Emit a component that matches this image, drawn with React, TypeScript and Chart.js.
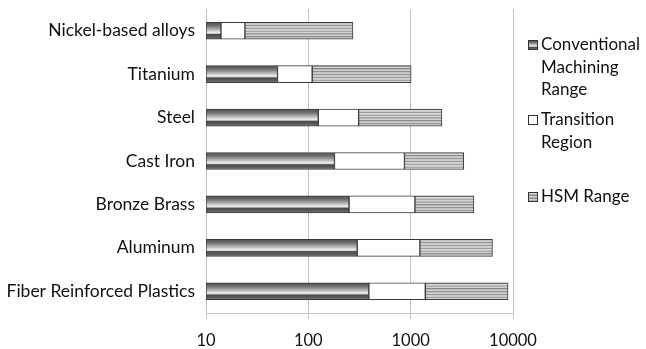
import React, { useEffect, useRef } from "react";
import { Chart, registerables } from "chart.js";

Chart.register(...registerables);

const categories = [
  "Nickel-based alloys",
  "Titanium",
  "Steel",
  "Cast Iron",
  "Bronze Brass",
  "Aluminum",
  "Fiber Reinforced Plastics",
];
const axisMin = 10;
const conventionalEnd = [14, 50, 125, 180, 250, 300, 390];
const transitionEnd = [24, 109, 310, 870, 1100, 1230, 1390];
const hsmEnd = [273, 1010, 2020, 3300, 4150, 6300, 8950];
const xTicks = [10, 100, 1000, 10000];
const legendLines = [
  ["Conventional", "Machining", "Range"],
  ["Transition", "Region"],
  ["HSM Range"],
];

const FONT = "Lato, 'Open Sans', sans-serif";

function convGradient(ctx: CanvasRenderingContext2D, top: number, h: number) {
  const g = ctx.createLinearGradient(0, top, 0, top + h);
  g.addColorStop(0, "#505050");
  g.addColorStop(0.2, "#6e6e6e");
  g.addColorStop(0.5, "#c8c8c8");
  g.addColorStop(0.6, "#eeeeee");
  g.addColorStop(0.66, "#d0d0d0");
  g.addColorStop(0.72, "#4a4a4a");
  g.addColorStop(0.86, "#5a5a5a");
  g.addColorStop(1, "#808080");
  return g;
}

function hsmGradient(ctx: CanvasRenderingContext2D, top: number, h: number) {
  const g = ctx.createLinearGradient(0, top, 0, top + h);
  const n = 6;
  for (let i = 0; i < n; i++) {
    g.addColorStop(i / n, "#8a8a8a");
    g.addColorStop((i + 0.2) / n, "#9a9a9a");
    g.addColorStop((i + 0.55) / n, "#d8d8d8");
    g.addColorStop((i + 0.95) / n, "#c8c8c8");
  }
  return g;
}

function makeFill(kind: "conv" | "trans" | "hsm") {
  return (c: any) => {
    if (kind === "trans") return "#ffffff";
    const fallback = kind === "conv" ? "#777777" : "#bbbbbb";
    const chart = c.chart;
    const y = chart.scales && chart.scales.y;
    if (!y || c.type !== "data") return fallback;
    const center = y.getPixelForValue(c.dataIndex);
    if (!Number.isFinite(center)) return fallback;
    const h = 17;
    const top = center - h / 2;
    return kind === "conv" ? convGradient(chart.ctx, top, h) : hsmGradient(chart.ctx, top, h);
  };
}

const legendPlugin = {
  id: "sideLegend",
  afterDraw(chart: any) {
    const ctx: CanvasRenderingContext2D = chart.ctx;
    const starts = [45, 120, 197];
    const lh = 22.5;
    const sx = 528;
    const tx = 541;
    ctx.save();
    ctx.font = `17px ${FONT}`;
    ctx.textBaseline = "middle";
    legendLines.forEach((lines, i) => {
      const y0 = starts[i];
      const top = Math.round(y0 - 5) + 0.5;
      const size = 9;
      let fill: any = "#fff";
      if (i === 0) fill = convGradient(ctx, top, size);
      if (i === 2) fill = hsmGradient(ctx, top, size);
      ctx.fillStyle = fill;
      ctx.fillRect(sx + 0.5, top, size, size);
      ctx.strokeStyle = "#333";
      ctx.lineWidth = 1;
      ctx.strokeRect(sx + 0.5, top, size, size);
      ctx.fillStyle = "#111111";
      lines.forEach((t, j) => {
        ctx.fillText(t, tx, y0 + j * lh);
      });
    });
    ctx.restore();
  },
};

export default function App() {
  const ref = useRef<HTMLCanvasElement | null>(null);

  useEffect(() => {
    document.body.style.margin = "0";
    const canvas = ref.current;
    if (!canvas) return;
    const mk = (label: string, starts: number[], ends: number[], kind: "conv" | "trans" | "hsm") => ({
      label,
      data: ends.map((e, i) => [starts[i], e]),
      backgroundColor: makeFill(kind),
      borderColor: "#3a3a3a",
      borderWidth: 1,
      borderSkipped: false,
      barThickness: 17,
      grouped: false,
    });
    const chart = new Chart(canvas, {
      type: "bar",
      data: {
        labels: categories,
        datasets: [
          mk("Conventional Machining Range", categories.map(() => axisMin), conventionalEnd, "conv"),
          mk("Transition Region", conventionalEnd, transitionEnd, "trans"),
          mk("HSM Range", transitionEnd, hsmEnd, "hsm"),
        ] as any,
      },
      options: {
        indexAxis: "y",
        animation: false,
        responsive: false,
        maintainAspectRatio: false,
        layout: { padding: { top: 9, right: 133, left: 0, bottom: 0 } },
        plugins: {
          legend: { display: false },
          tooltip: { enabled: false },
        },
        scales: {
          x: {
            type: "logarithmic",
            min: 10,
            max: 10000,
            afterBuildTicks: (s: any) => {
              s.ticks = xTicks.map((v) => ({ value: v, major: true }));
            },
            afterFit: (s: any) => {
              s.height = 36;
              s.paddingLeft = 0;
              s.paddingRight = 0;
            },
            ticks: {
              autoSkip: false,
              maxRotation: 0,
              color: "#111111",
              font: { family: FONT, size: 16.5 },
              padding: 12,
              callback: (v: any) => String(v),
            },
            grid: { color: "#c4c4c4", tickLength: 6, lineWidth: 1 },
            border: { color: "#c4c4c4" },
          },
          y: {
            type: "category",
            afterFit: (s: any) => {
              s.width = 206;
              s.paddingTop = 0;
              s.paddingBottom = 0;
            },
            ticks: {
              color: "#111111",
              font: { family: FONT, size: 17.5 },
              padding: 11,
            },
            grid: { display: false, drawTicks: false },
            border: { color: "#c4c4c4" },
          },
        },
      } as any,
      plugins: [legendPlugin],
    });
    chart.update();
    return () => chart.destroy();
  }, []);

  return (
    <div style={{ position: "relative", width: 646, height: 349 }}>
      <canvas ref={ref} width={646} height={349} style={{ display: "block", width: 646, height: 349 }} />
    </div>
  );
}
